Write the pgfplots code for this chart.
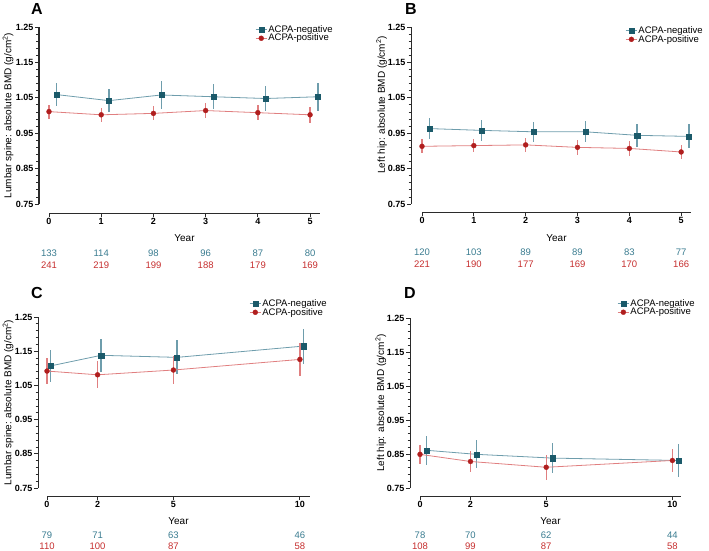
\documentclass[border=0pt]{standalone}
\usepackage{pgfplots}
\pgfplotsset{compat=1.18}
\usepackage{pgfplotstable}
\usepackage{fontspec}
\setmainfont{Liberation Sans}

\definecolor{negdark}{HTML}{1B5A6A}
\definecolor{neglight}{HTML}{6E9DAC}
\definecolor{posdark}{HTML}{B01E1E}
\definecolor{poslight}{HTML}{E07F80}
\definecolor{negtxt}{HTML}{3A7C90}
\definecolor{postxt}{HTML}{C62F2F}
\definecolor{axgray}{HTML}{2B2B2B}

\pgfplotstableread{
x y e
0.15 1.059 0.033
1.15 1.042 0.032
2.15 1.058 0.040
3.15 1.053 0.036
4.15 1.048 0.036
5.15 1.053 0.039
}\Aneg
\pgfplotstableread{
x y e
0 1.011 0.020
1 1.002 0.020
2 1.006 0.020
3 1.014 0.021
4 1.008 0.022
5 1.002 0.022
}\Apos
\pgfplotstableread{
x y e
0.15 0.963 0.029
1.15 0.958 0.029
2.15 0.954 0.029
3.15 0.954 0.030
4.15 0.944 0.032
5.15 0.941 0.034
}\Bneg
\pgfplotstableread{
x y e
0 0.913 0.020
1 0.915 0.019
2 0.917 0.020
3 0.910 0.021
4 0.907 0.021
5 0.897 0.021
}\Bpos
\pgfplotstableread{
x y e
0.14 1.107 0.048
2.14 1.138 0.048
5.14 1.132 0.050
10.14 1.165 0.051
}\Cneg
\pgfplotstableread{
x y e
0 1.092 0.037
2 1.081 0.039
5 1.095 0.041
10 1.126 0.049
}\Cpos
\pgfplotstableread{
x y e
0.25 0.861 0.043
2.25 0.849 0.041
5.25 0.838 0.044
10.25 0.831 0.049
}\Dneg
\pgfplotstableread{
x y e
0 0.849 0.028
2 0.828 0.031
5 0.811 0.036
10 0.831 0.034
}\Dpos

\pgfplotsset{
  panel/.style={
    scale only axis, anchor=south west, clip=false,
    axis lines=left, axis line style={-, line width=1pt, color=axgray},
    tick align=outside, tick style={line width=0.8pt, color=axgray},
    major tick length=4pt, minor tick length=2.5pt,
    ymin=0.75, ymax=1.25, ytick={0.75,0.85,0.95,1.05,1.15,1.25}, minor y tick num=4,
    /pgf/number format/assume math mode=true,
    yticklabel style={/pgf/number format/.cd, fixed, fixed zerofill, precision=2, /tikz/.cd,
      font=\fontsize{9}{10}\selectfont\bfseries, inner sep=1.5pt},
    xticklabel style={font=\fontsize{9}{10}\selectfont\bfseries, inner sep=1.5pt},
    xlabel=Year,
    xlabel style={font=\fontsize{10}{11}\selectfont, at={(axis description cs:0.5,0)}, anchor=center, yshift=-34pt},
    legend cell align=left,
    legend image code/.code={\draw[mark repeat=2,mark phase=2,#1] plot coordinates {(0cm,0cm) (0.2cm,0cm) (0.4cm,0cm)};},
    legend style={draw=none, fill=none, anchor=north west, inner sep=0pt,
      font=\fontsize{9.5}{10}\selectfont, row sep=-1.5pt, nodes={inner sep=1pt}},
  },
  negplot/.style={color=neglight, line width=0.8pt, mark=square*, mark size=2.6pt,
    mark options={fill=negdark, draw=negdark, line width=0.3pt},
    error bars/.cd, y dir=both, y explicit, error bar style={color=neglight, line width=1.3pt}, error mark=none},
  posplot/.style={color=poslight, line width=0.8pt, mark=*, mark size=2.5pt,
    mark options={fill=posdark, draw=posdark, line width=0.3pt},
    error bars/.cd, y dir=both, y explicit, error bar style={color=poslight, line width=1.3pt}, error mark=none},
}
\tikzset{
  ntxt/.style={font=\fontsize{9.5}{10}\selectfont, text=negtxt, anchor=center},
  ptxt/.style={font=\fontsize{9.5}{10}\selectfont, text=postxt, anchor=center},
  plab/.style={font=\fontsize{16}{16}\selectfont\bfseries, anchor=center},
  ylab/.style={font=\fontsize{10}{11}\selectfont, anchor=center},
}

\begin{document}
\begin{tikzpicture}
\useasboundingbox (0pt,0pt) rectangle (709pt,-550pt);

% ---------------- A ----------------
\begin{axis}[panel, at={(49pt,-204pt)}, width=271pt, height=177pt,
  xmin=0, xmax=5.19, xtick={0,1,2,3,4,5},
  axis x line shift=9pt, axis y line shift=10pt,
  ylabel={Lumbar spine: absolute BMD (g/cm\textsuperscript{2})},
  ylabel style={ylab, at={(axis description cs:-0.151,0.5)}},
  legend style={at={(axis description cs:0.76,1.017)}}]
\addplot[negplot] table[x=x, y=y, y error=e] {\Aneg};
\addplot[posplot] table[x=x, y=y, y error=e] {\Apos};
\legend{ACPA-negative, ACPA-positive}
\node[ntxt] at ([yshift=-49pt]axis cs:0,0.75) {133};
\node[ntxt] at ([yshift=-49pt]axis cs:1,0.75) {114};
\node[ntxt] at ([yshift=-49pt]axis cs:2,0.75) {98};
\node[ntxt] at ([yshift=-49pt]axis cs:3,0.75) {96};
\node[ntxt] at ([yshift=-49pt]axis cs:4,0.75) {87};
\node[ntxt] at ([yshift=-49pt]axis cs:5,0.75) {80};
\node[ptxt] at ([yshift=-61pt]axis cs:0,0.75) {241};
\node[ptxt] at ([yshift=-61pt]axis cs:1,0.75) {219};
\node[ptxt] at ([yshift=-61pt]axis cs:2,0.75) {199};
\node[ptxt] at ([yshift=-61pt]axis cs:3,0.75) {188};
\node[ptxt] at ([yshift=-61pt]axis cs:4,0.75) {179};
\node[ptxt] at ([yshift=-61pt]axis cs:5,0.75) {169};
\end{axis}
\node[plab] at (37pt,-9pt) {A};

% ---------------- B ----------------
\begin{axis}[panel, at={(422pt,-204pt)}, width=269pt, height=177pt,
  xmin=0, xmax=5.19, xtick={0,1,2,3,4,5},
  axis x line shift=8pt, axis y line shift=11pt,
  ylabel={Left hip: absolute BMD (g/cm\textsuperscript{2})},
  ylabel style={ylab, at={(axis description cs:-0.15,0.56)}},
  legend style={at={(axis description cs:0.755,1.011)}}]
\addplot[negplot] table[x=x, y=y, y error=e] {\Bneg};
\addplot[posplot] table[x=x, y=y, y error=e] {\Bpos};
\legend{ACPA-negative, ACPA-positive}
\node[ntxt] at ([yshift=-48pt]axis cs:0,0.75) {120};
\node[ntxt] at ([yshift=-48pt]axis cs:1,0.75) {103};
\node[ntxt] at ([yshift=-48pt]axis cs:2,0.75) {89};
\node[ntxt] at ([yshift=-48pt]axis cs:3,0.75) {89};
\node[ntxt] at ([yshift=-48pt]axis cs:4,0.75) {83};
\node[ntxt] at ([yshift=-48pt]axis cs:5,0.75) {77};
\node[ptxt] at ([yshift=-60pt]axis cs:0,0.75) {221};
\node[ptxt] at ([yshift=-60pt]axis cs:1,0.75) {190};
\node[ptxt] at ([yshift=-60pt]axis cs:2,0.75) {177};
\node[ptxt] at ([yshift=-60pt]axis cs:3,0.75) {169};
\node[ptxt] at ([yshift=-60pt]axis cs:4,0.75) {170};
\node[ptxt] at ([yshift=-60pt]axis cs:5,0.75) {166};
\end{axis}
\node[plab] at (411pt,-9pt) {B};

% ---------------- C ----------------
\begin{axis}[panel, at={(47pt,-488pt)}, width=263pt, height=171pt,
  xmin=0, xmax=10.4, xtick={0,2,5,10},
  axis x line shift=8pt, axis y line shift=9pt,
  ylabel={Lumbar spine: absolute BMD (g/cm\textsuperscript{2})},
  ylabel style={ylab, at={(axis description cs:-0.148,0.5)}},
  xlabel style={yshift=1pt},
  legend style={at={(axis description cs:0.768,1.111)}}]
\addplot[negplot] table[x=x, y=y, y error=e] {\Cneg};
\addplot[posplot] table[x=x, y=y, y error=e] {\Cpos};
\legend{ACPA-negative, ACPA-positive}
\node[ntxt] at ([yshift=-47pt]axis cs:0,0.75) {79};
\node[ntxt] at ([yshift=-47pt]axis cs:2,0.75) {71};
\node[ntxt] at ([yshift=-47pt]axis cs:5,0.75) {63};
\node[ntxt] at ([yshift=-47pt]axis cs:10,0.75) {46};
\node[ptxt] at ([yshift=-58pt]axis cs:0,0.75) {110};
\node[ptxt] at ([yshift=-58pt]axis cs:2,0.75) {100};
\node[ptxt] at ([yshift=-58pt]axis cs:5,0.75) {87};
\node[ptxt] at ([yshift=-58pt]axis cs:10,0.75) {58};
\end{axis}
\node[plab] at (37pt,-293pt) {C};

% ---------------- D ----------------
\begin{axis}[panel, at={(420pt,-488pt)}, width=261pt, height=170pt,
  xmin=0, xmax=10.34, xtick={0,2,5,10},
  axis x line shift=8pt, axis y line shift=10pt,
  ylabel={Left hip: absolute BMD (g/cm\textsuperscript{2})},
  ylabel style={ylab, at={(axis description cs:-0.150,0.5)}},
  xlabel style={yshift=1pt},
  legend style={at={(axis description cs:0.755,1.118)}}]
\addplot[negplot] table[x=x, y=y, y error=e] {\Dneg};
\addplot[posplot] table[x=x, y=y, y error=e] {\Dpos};
\legend{ACPA-negative, ACPA-positive}
\node[ntxt] at ([yshift=-47pt]axis cs:0,0.75) {78};
\node[ntxt] at ([yshift=-47pt]axis cs:2,0.75) {70};
\node[ntxt] at ([yshift=-47pt]axis cs:5,0.75) {62};
\node[ntxt] at ([yshift=-47pt]axis cs:10,0.75) {44};
\node[ptxt] at ([yshift=-58pt]axis cs:0,0.75) {108};
\node[ptxt] at ([yshift=-58pt]axis cs:2,0.75) {99};
\node[ptxt] at ([yshift=-58pt]axis cs:5,0.75) {87};
\node[ptxt] at ([yshift=-58pt]axis cs:10,0.75) {58};
\end{axis}
\node[plab] at (410pt,-293pt) {D};
\end{tikzpicture}
\end{document}
